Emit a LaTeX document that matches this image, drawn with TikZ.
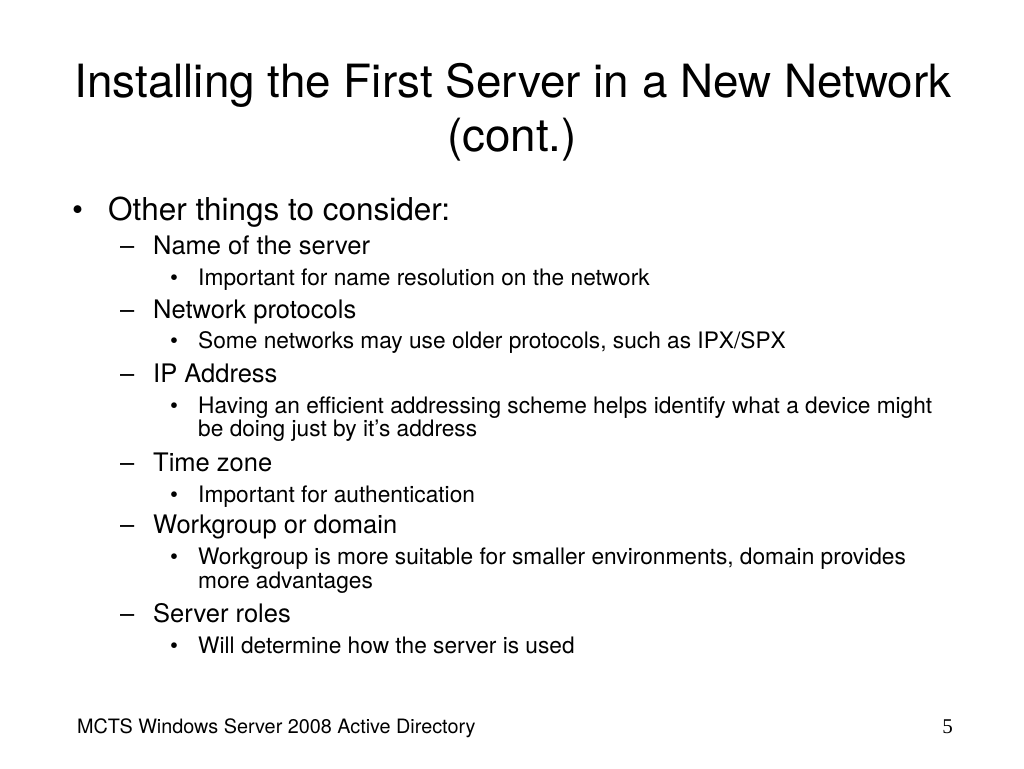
\documentclass[tikz,border=0pt]{standalone}
\usepackage{fontspec}
\setmainfont{TeX Gyre Heros}
\newfontfamily\pagenumfont{Liberation Serif}
\usetikzlibrary{positioning}

\tikzset{
  titletext/.style={anchor=base, inner sep=0pt, font=\fontsize{45.8}{54}\selectfont},
  levelone/.style={anchor=base west, inner sep=0pt, font=\fontsize{31.5}{38}\selectfont},
  leveltwo/.style={anchor=base west, inner sep=0pt, font=\fontsize{25.5}{31}\selectfont},
  levelthree/.style={anchor=base west, inner sep=0pt, font=\fontsize{22.7}{27}\selectfont},
  footertext/.style={anchor=base west, inner sep=0pt, font=\fontsize{19.8}{24}\selectfont}
}

\begin{document}
\begin{tikzpicture}[x=1pt, y=-1pt]
  \useasboundingbox[fill=white] (0,0) rectangle (1024,768);

  % Titre
  \node[titletext] (title1) at (513,97) {Installing the First Server in a New Network};
  \node[titletext] (title2) at (512,151) {(cont.)};

  % Premier niveau
  \node[levelone] (b1) at (72,220) {\textbullet};
  \node[levelone] (other) at (108,220) {Other things to consider:};

  % Deuxième niveau
  \node[leveltwo] (d1) at (120,254) {--};
  \node[leveltwo] (name) at (153,254) {Name of the server};
  \node[leveltwo] (d2) at (120,318) {--};
  \node[leveltwo] (proto) at (153,318) {Network protocols};
  \node[leveltwo] (d3) at (120,382) {--};
  \node[leveltwo] (ipaddr) at (153,382) {IP Address};
  \node[leveltwo] (d4) at (120,471) {--};
  \node[leveltwo] (tzone) at (153,471) {Time zone};
  \node[leveltwo] (d5) at (120,533) {--};
  \node[leveltwo] (wgroup) at (153,533) {Workgroup or domain};
  \node[leveltwo] (d6) at (120,622) {--};
  \node[leveltwo] (roles) at (153,622) {Server roles};

  % Troisième niveau
  \node[levelthree] (s1) at (170,285) {\textbullet};
  \node[levelthree] (nameres) at (198,285) {Important for name resolution on the network};
  \node[levelthree] (s2) at (170,348) {\textbullet};
  \node[levelthree] (ipx) at (198,348) {Some networks may use older protocols, such as IPX/SPX};
  \node[levelthree] (s3) at (170,413) {\textbullet};
  \node[levelthree] (scheme) at (198,413) {Having an efficient addressing scheme helps identify what a device might};
  \node[levelthree] (scheme2) at (198,436) {be doing just by it’s address};
  \node[levelthree] (s4) at (170,502) {\textbullet};
  \node[levelthree] (auth) at (198,502) {Important for authentication};
  \node[levelthree] (s5) at (170,564) {\textbullet};
  \node[levelthree] (suit) at (198,564) {Workgroup is more suitable for smaller environments, domain provides};
  \node[levelthree] (suit2) at (198,588) {more advantages};
  \node[levelthree] (s6) at (170,653) {\textbullet};
  \node[levelthree] (used) at (198,653) {Will determine how the server is used};

  % Pied de page
  \node[footertext] (footer) at (77,733) {MCTS Windows Server 2008 Active Directory};
  \node[footertext, anchor=base east, font=\pagenumfont\fontsize{21}{25}\selectfont] (pagenum) at (953,733) {5};
\end{tikzpicture}
\end{document}
